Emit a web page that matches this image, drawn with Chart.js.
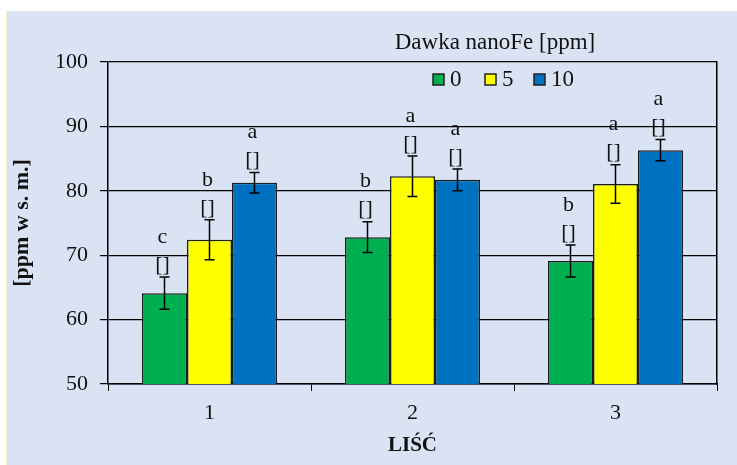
<!DOCTYPE html>
<html>
<head>
<meta charset="utf-8">
<script src="https://cdn.jsdelivr.net/npm/chart.js@4.4.1/dist/chart.umd.min.js"></script>
<style>
  html, body { margin: 0; padding: 0; background: #ffffff; }
  #wrap { width: 737px; height: 465px; position: relative; }
</style>
</head>
<body>
<div id="wrap"><canvas id="c" width="737" height="465"></canvas></div>
<script>
// Leaf iron content by nanoFe dose
const categories = ['1', '2', '3'];
const doseLabels = ['0', '5', '10'];

const dose0 = [64.1, 72.8, 69.1];
const dose5 = [72.4, 82.25, 81.05];
const dose10 = [81.25, 81.7, 86.3];

const err0 = [2.5, 2.4, 2.5];
const err5 = [3.1, 3.15, 3.0];
const err10 = [1.6, 1.7, 1.65];

const groups0 = ['c', 'b', 'b'];
const groups5 = ['b', 'a', 'a'];
const groups10 = ['a', 'a', 'a'];

const yTicks = [50, 60, 70, 80, 90, 100];

const colors = ['#00B050', '#FFFF00', '#0070C0'];
const SERIF = '"Liberation Serif", "Times New Roman", serif';

const seriesValues = [dose0, dose5, dose10];
const seriesErrors = [err0, err5, err10];
const seriesGroups = [groups0, groups5, groups10];

// Panel background behind the whole chart
const panelBackground = {
  id: 'panelBackground',
  beforeDraw(chart) {
    const ctx = chart.ctx;
    ctx.save();
    ctx.fillStyle = '#DAE3F3';
    ctx.fillRect(6, 11, chart.width - 6, chart.height - 11);
    ctx.strokeStyle = '#EEF0C8';
    ctx.lineWidth = 1;
    ctx.beginPath();
    ctx.moveTo(6.5, 11);
    ctx.lineTo(6.5, chart.height);
    ctx.stroke();
    ctx.restore();
  }
};

// Error bars with the homogeneous-group letters above them
const errorBars = {
  id: 'errorBars',
  afterDatasetsDraw(chart) {
    const ctx = chart.ctx;
    const y = chart.scales.y;
    ctx.save();
    chart.data.datasets.forEach((ds, di) => {
      const meta = chart.getDatasetMeta(di);
      meta.data.forEach((bar, i) => {
        const v = ds.data[i];
        const e = seriesErrors[di][i];
        const x = bar.x;
        const yTop = y.getPixelForValue(v + e);
        const yBot = y.getPixelForValue(v - e);
        ctx.strokeStyle = '#000';
        ctx.lineWidth = 1.5;
        ctx.beginPath();
        ctx.moveTo(x, yTop); ctx.lineTo(x, yBot);
        ctx.moveTo(x - 5, yTop); ctx.lineTo(x + 5, yTop);
        ctx.moveTo(x - 5, yBot); ctx.lineTo(x + 5, yBot);
        ctx.stroke();

        ctx.fillStyle = '#111';
        ctx.textAlign = 'center';
        ctx.textBaseline = 'middle';
        ctx.font = '22px ' + SERIF;
        ctx.fillText('[]', x - 2, yTop - 12);
        ctx.fillText(seriesGroups[di][i], x - 2, yTop - 40);
      });
    });
    ctx.restore();
  }
};

// Legend with its title, placed over the top of the plot
const doseLegend = {
  id: 'doseLegend',
  afterDraw(chart) {
    const ctx = chart.ctx;
    ctx.save();
    ctx.fillStyle = '#111';
    ctx.textBaseline = 'middle';
    ctx.textAlign = 'center';
    ctx.font = '23px ' + SERIF;
    ctx.fillText('Dawka nanoFe [ppm]', 495, 43);

    const starts = [433, 485, 534];
    ctx.textAlign = 'left';
    ctx.font = '23px ' + SERIF;
    chart.data.datasets.forEach((ds, i) => {
      const bx = starts[i];
      ctx.fillStyle = ds.backgroundColor;
      ctx.fillRect(bx, 74, 11, 11);
      ctx.strokeStyle = '#222';
      ctx.lineWidth = 1.5;
      ctx.strokeRect(bx, 74, 11, 11);
      ctx.fillStyle = '#111';
      ctx.fillText(ds.label, bx + 17, 80);
    });
    ctx.restore();
  }
};

new Chart(document.getElementById('c'), {
  type: 'bar',
  data: {
    labels: categories,
    datasets: seriesValues.map((vals, i) => ({
      label: doseLabels[i],
      data: vals,
      backgroundColor: colors[i],
      borderColor: '#1c1c1c',
      borderWidth: 1.5,
      borderSkipped: false,
      categoryPercentage: 0.665,
      barPercentage: 1.0
    }))
  },
  options: {
    responsive: false,
    animation: false,
    devicePixelRatio: 1,
    layout: { padding: { left: 6, top: 62, right: 20, bottom: 0 } },
    plugins: {
      legend: { display: false },
      tooltip: { enabled: false },
      title: { display: false }
    },
    scales: {
      x: {
        type: 'category',
        offset: true,
        grid: {
          offset: true,
          drawOnChartArea: false,
          drawTicks: true,
          tickLength: 7,
          color: '#000',
          lineWidth: 1
        },
        border: { display: true, color: '#000', width: 1.5 },
        ticks: {
          color: '#111',
          padding: 9,
          font: { family: SERIF, size: 22 }
        },
        title: {
          display: true,
          text: 'LIŚĆ',
          color: '#111',
          font: { family: SERIF, size: 21, weight: 'bold' },
          padding: { top: 4, bottom: 7 }
        },
        afterFit(scale) { scale.height = 81; }
      },
      y: {
        min: 50,
        max: 100,
        afterBuildTicks(scale) { scale.ticks = yTicks.map(v => ({ value: v })); },
        grid: {
          color: '#000',
          lineWidth: 1.2,
          drawTicks: true,
          tickLength: 8
        },
        border: { display: true, color: '#000', width: 1.5 },
        ticks: {
          color: '#111',
          padding: 12,
          font: { family: SERIF, size: 22 }
        },
        title: {
          display: true,
          text: '[ppm w s. m.]',
          color: '#111',
          font: { family: SERIF, size: 22, weight: 'bold' },
          padding: { top: 3, bottom: 4 }
        },
        afterFit(scale) { scale.width = 102; }
      },
      yRight: {
        position: 'right',
        min: 50,
        max: 100,
        grid: { drawOnChartArea: false, drawTicks: false },
        border: { display: true, color: '#000', width: 1.5 },
        ticks: { display: false },
        afterFit(scale) { scale.width = 0; }
      }
    }
  },
  plugins: [panelBackground, errorBars, doseLegend]
});
</script>
</body>
</html>
